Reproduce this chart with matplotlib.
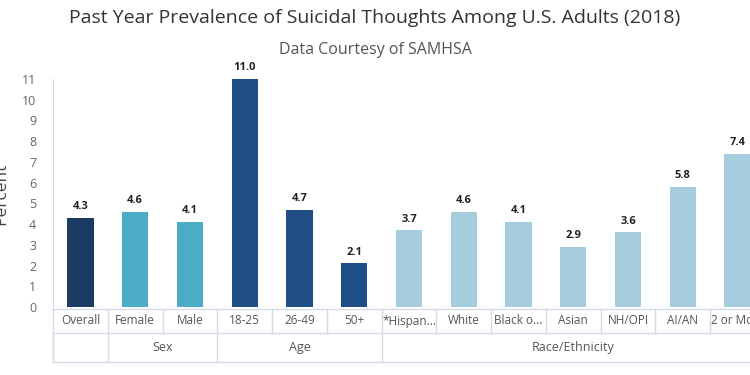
import matplotlib.pyplot as plt
import matplotlib.transforms as mtransforms

plt.rcParams['font.family'] = ['Open Sans', 'DejaVu Sans']

# data
categories = ['Overall', 'Female', 'Male', '18-25', '26-49', '50+',
              '*Hispan...', 'White', 'Black o...', 'Asian', 'NH/OPI', 'AI/AN', '2 or More']
values = [4.3, 4.6, 4.1, 11.0, 4.7, 2.1, 3.7, 4.6, 4.1, 2.9, 3.6, 5.8, 7.4]
groups = ['', 'Sex', 'Age', 'Race/Ethnicity']
group_sizes = [1, 2, 3, 7]
group_colors = ['#1b3a64', '#4bacc6', '#1f4e87', '#a5cddd']

fig = plt.figure(figsize=(7.5, 3.75), dpi=100)
# plot area runs past the right edge, like the cropped original
ax = fig.add_axes([53 / 750, 1 - 307 / 375, 712 / 750, 228 / 375])

colors = []
for c, n in zip(group_colors, group_sizes):
    colors += [c] * n

x = list(range(len(categories)))
bars = ax.bar(x, values, width=0.48, color=colors, zorder=2)
for xi, v in zip(x, values):
    ax.annotate(f'{v:.1f}', (xi, v), xytext=(0, 4), textcoords='offset points',
                ha='center', va='bottom', fontsize=8, fontweight='bold', color='#222222')

ax.set_xlim(-0.5, len(categories) - 0.5)
ax.set_ylim(0, 11)
ax.set_yticks(range(0, 12))
ax.tick_params(axis='y', length=0, pad=12, labelsize=9, labelcolor='#666666')
ax.set_xticks([])
for s in ['top', 'right', 'bottom']:
    ax.spines[s].set_visible(False)
ax.spines['left'].set_color('#d0d6e2')
ax.set_ylabel('Percent', fontsize=12.5, color='#444444')
ax.yaxis.set_label_coords(-0.062, 0.495)

# category table under the bars
line_c = '#d5dbe7'
trans = mtransforms.blended_transform_factory(ax.transData, ax.transAxes)
r1 = -26 / 228
r2 = -55 / 228
y0 = -2 / 228
lo, hi = -0.5, len(categories) - 0.5
for yy in [y0, r1, r2]:
    ax.plot([lo, hi], [yy, yy], color=line_c, lw=1, transform=trans, clip_on=False)
ax.plot([lo, lo], [y0, r2], color=line_c, lw=1, transform=trans, clip_on=False)
for i in range(1, len(categories)):
    ax.plot([i - 0.5, i - 0.5], [y0, r1], color=line_c, lw=1, transform=trans, clip_on=False)
for i, lab in enumerate(categories):
    ax.text(i, (y0 + r1) / 2, lab, transform=trans, ha='center', va='center',
            fontsize=8.5, color='#555555', clip_on=False)

start = 0
for g, n in zip(groups, group_sizes):
    ax.plot([start - 0.5, start - 0.5], [r1, r2], color=line_c, lw=1, transform=trans, clip_on=False)
    ax.text(start + (n - 1) / 2, (r1 + r2) / 2, g, transform=trans, ha='center', va='center',
            fontsize=9, color='#555555', clip_on=False)
    start += n

fig.text(0.5, 1 - 18 / 375, 'Past Year Prevalence of Suicidal Thoughts Among U.S. Adults (2018)',
         ha='center', va='center', fontsize=14, color='#333333')
fig.text(0.5, 1 - 50 / 375, 'Data Courtesy of SAMHSA', ha='center', va='center',
         fontsize=11.5, color='#555555')

fig.savefig('out.png', dpi=100, facecolor='white')
